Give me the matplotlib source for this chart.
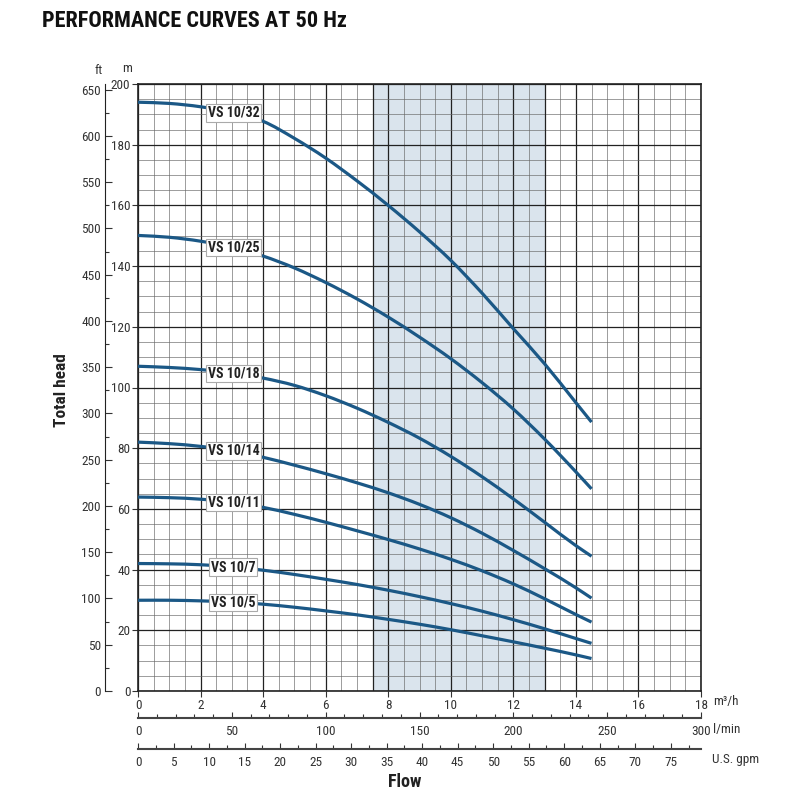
import numpy as np
import matplotlib
matplotlib.use("Agg")
import matplotlib.pyplot as plt
from matplotlib.ticker import MultipleLocator
from matplotlib.path import Path
from matplotlib.patches import PathPatch

plt.rcParams['font.family'] = ['Roboto Condensed', 'Liberation Sans', 'DejaVu Sans']

# flow in m3/h, head in m
flow = [0, 1, 2, 3, 4, 5, 6, 7, 8, 9, 10, 11, 12, 13, 14, 14.5]
vs32 = [194.0, 193.6, 192.5, 190.6, 187.7, 182.1, 175.6, 168.1, 160.0, 151.3, 141.9, 131.1, 119.4, 107.8, 95.0, 88.6]
vs25 = [150.1, 149.5, 148.2, 146.2, 143.3, 139.4, 134.6, 129.2, 123.2, 116.6, 109.5, 101.6, 92.9, 83.0, 72.2, 66.6]
vs18 = [107.0, 106.6, 105.9, 104.8, 103.1, 100.7, 97.3, 93.2, 88.5, 83.3, 77.3, 70.6, 63.3, 55.6, 47.9, 44.4]
vs14 = [82.0, 81.5, 80.6, 79.2, 77.0, 74.4, 71.6, 68.6, 65.3, 61.5, 57.1, 52.0, 46.3, 40.3, 34.0, 30.6]
vs11 = [63.9, 63.7, 63.2, 62.2, 60.5, 58.2, 55.6, 52.8, 49.9, 46.8, 43.4, 39.6, 35.3, 30.4, 25.2, 22.7]
vs7 = [42.0, 41.9, 41.6, 40.9, 39.8, 38.4, 36.8, 35.1, 33.2, 31.1, 28.8, 26.3, 23.5, 20.5, 17.3, 15.7]
vs5 = [29.9, 29.9, 29.7, 29.3, 28.6, 27.6, 26.4, 25.1, 23.6, 22.0, 20.2, 18.2, 16.2, 14.1, 11.9, 10.7]

models = ['VS 10/32', 'VS 10/25', 'VS 10/18', 'VS 10/14', 'VS 10/11', 'VS 10/7', 'VS 10/5']
curves = [vs32, vs25, vs18, vs14, vs11, vs7, vs5]

band = (7.5, 13)  # shaded best-efficiency range

blue = '#1b5886'
txt = '#333333'


def smooth_path(x, y):
    # cubic bezier through the read points (hermite tangents)
    x = np.asarray(x, float)
    y = np.asarray(y, float)
    m = np.gradient(y, x)
    verts = [(x[0], y[0])]
    codes = [Path.MOVETO]
    for i in range(len(x) - 1):
        dx = x[i + 1] - x[i]
        verts += [(x[i] + dx / 3, y[i] + m[i] * dx / 3),
                  (x[i + 1] - dx / 3, y[i + 1] - m[i + 1] * dx / 3),
                  (x[i + 1], y[i + 1])]
        codes += [Path.CURVE4] * 3
    return Path(verts, codes)


fig = plt.figure(figsize=(8, 8), dpi=100)
ax = fig.add_axes([138/800, 1-691/800, 563/800, 607/800])

ax.set_xlim(0, 18)
ax.set_ylim(0, 200)
ax.axvspan(band[0], band[1], color='#dae4ed', zorder=0, lw=0)

ax.xaxis.set_major_locator(MultipleLocator(2))
ax.xaxis.set_minor_locator(MultipleLocator(0.5))
ax.yaxis.set_major_locator(MultipleLocator(20))
ax.yaxis.set_minor_locator(MultipleLocator(5))
ax.grid(which='major', color='#222222', lw=0.9, zorder=1)
ax.grid(which='minor', color='#666666', lw=0.45, zorder=1)
ax.axvline(band[0], color='#222222', lw=0.9, zorder=1)
ax.axvline(band[1], color='#222222', lw=0.9, zorder=1)
ax.set_axisbelow(True)

for name, h in zip(models, curves):
    ax.add_patch(PathPatch(smooth_path(flow, h), fill=False, ec=blue, lw=2.3,
                           capstyle='butt', zorder=3))
    ax.text(3.05, np.interp(3.05, flow, h), name, ha='center', va='center',
            fontsize=10, fontweight='bold', color='#222222', zorder=4,
            bbox=dict(boxstyle='square,pad=0.12', fc='white', ec='#aaaaaa', lw=0.8))

for s in ax.spines.values():
    s.set_color('#222222')
    s.set_linewidth(1.2)

ax.tick_params(which='both', colors=txt, labelsize=9.5)
ax.tick_params(axis='y', which='major', direction='out', length=4, width=0.8, pad=1.5)
ax.tick_params(axis='y', which='minor', length=0)
ax.tick_params(axis='x', which='major', direction='out', length=4, width=0.8, pad=2)
ax.tick_params(axis='x', which='minor', length=0)

# feet scale on the left
ft = ax.secondary_yaxis(-0.0586, functions=(lambda m: m / 0.3048, lambda f: f * 0.3048))
ft.yaxis.set_major_locator(MultipleLocator(50))
ft.yaxis.set_minor_locator(MultipleLocator(25))
ft.tick_params(which='major', direction='in', length=5, width=0.8, colors=txt, labelsize=9.5, pad=3)
ft.tick_params(which='minor', direction='in', length=3, width=0.8, colors=txt)
ft.spines['left'].set_color('#222222')

# l/min and US gpm scales below
lmin = ax.secondary_xaxis(-0.0445, functions=(lambda q: q * 1000 / 60, lambda l: l * 60 / 1000))
lmin.xaxis.set_major_locator(MultipleLocator(50))
lmin.xaxis.set_minor_locator(MultipleLocator(10))
lmin.tick_params(which='major', direction='in', length=4, width=0.8, colors=txt, labelsize=9.5, pad=5)
lmin.tick_params(which='minor', direction='in', length=3, width=0.8, colors=txt)
lmin.spines['bottom'].set_color('#444444')
lmin.spines['bottom'].set_linewidth(1.5)

gpm = ax.secondary_xaxis(-0.0956, functions=(lambda q: q * 4.40287, lambda g: g / 4.40287))
gpm.xaxis.set_major_locator(MultipleLocator(5))
gpm.xaxis.set_minor_locator(MultipleLocator(2.5))
gpm.tick_params(which='major', direction='in', length=4, width=0.8, colors=txt, labelsize=9.5, pad=5)
gpm.tick_params(which='minor', direction='in', length=3, width=0.8, colors=txt)
gpm.spines['bottom'].set_color('#444444')
gpm.spines['bottom'].set_linewidth(1.5)

fig.text(713/800, 1-702/800, 'm³/h', fontsize=9.5, color=txt, va='center')
fig.text(713/800, 1-729/800, 'l/min', fontsize=9.5, color=txt, va='center')
fig.text(712/800, 1-760/800, 'U.S. gpm', fontsize=9.5, color=txt, va='center')
fig.text(99/800, 1-70/800, 'ft', fontsize=9.5, color=txt, ha='center', va='center')
fig.text(127/800, 1-69/800, 'm', fontsize=9.5, color=txt, ha='center', va='center')
fig.text(405/800, 1-782/800, 'Flow', fontsize=13, fontweight='bold', color='#222222', ha='center', va='center')
fig.text(62/800, 1-390/800, 'Total head', fontsize=12.5, fontweight='bold', color='#222222',
         ha='center', va='center', rotation=90)
fig.text(42/800, 1-21/800, 'PERFORMANCE CURVES AT 50 Hz', fontsize=16, fontweight='bold',
         color='#111111', ha='left', va='center')

fig.savefig('out.png', dpi=100)
